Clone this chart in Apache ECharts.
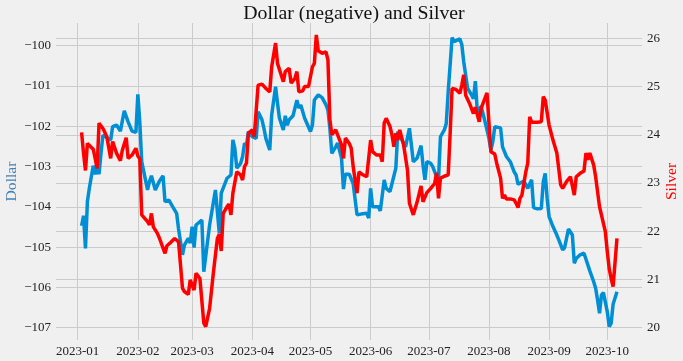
<!DOCTYPE html>
<html><head><meta charset="utf-8">
<script src="https://cdn.jsdelivr.net/npm/echarts@6/dist/echarts.min.js"></script>
<style>html,body{margin:0;padding:0;background:#f0f0f0}#c{width:683px;height:361px}</style>
</head><body><div id="c"></div>
<script>
const dollarDates = [
'2023-01-03','2023-01-04','2023-01-05','2023-01-06','2023-01-07','2023-01-09','2023-01-10','2023-01-11','2023-01-12','2023-01-13','2023-01-14','2023-01-15','2023-01-18','2023-01-19','2023-01-21','2023-01-23','2023-01-25','2023-01-27','2023-01-29','2023-01-31',
'2023-02-01','2023-02-02','2023-02-03','2023-02-06','2023-02-07','2023-02-08','2023-02-10','2023-02-12','2023-02-14','2023-02-15','2023-02-17','2023-02-19','2023-02-21','2023-02-22','2023-02-24','2023-02-25','2023-02-27','2023-02-28',
'2023-03-01','2023-03-02','2023-03-03','2023-03-06','2023-03-07','2023-03-08','2023-03-10','2023-03-13','2023-03-14','2023-03-15','2023-03-16','2023-03-19','2023-03-21','2023-03-22','2023-03-23','2023-03-24','2023-03-26','2023-03-27','2023-03-28','2023-03-29','2023-03-30',
'2023-04-01','2023-04-03','2023-04-04','2023-04-06','2023-04-07','2023-04-08','2023-04-10','2023-04-11','2023-04-13','2023-04-14','2023-04-15','2023-04-17','2023-04-18','2023-04-19','2023-04-20','2023-04-22','2023-04-24','2023-04-25','2023-04-26','2023-04-28',
'2023-05-01','2023-05-02','2023-05-03','2023-05-05','2023-05-07','2023-05-09','2023-05-10','2023-05-11','2023-05-12','2023-05-14','2023-05-15','2023-05-17','2023-05-18','2023-05-19','2023-05-21','2023-05-23','2023-05-25','2023-05-27','2023-05-30','2023-05-31',
'2023-06-01','2023-06-02','2023-06-05','2023-06-06','2023-06-08','2023-06-09','2023-06-11','2023-06-12','2023-06-14','2023-06-15','2023-06-16','2023-06-18','2023-06-19','2023-06-21','2023-06-22','2023-06-23','2023-06-25','2023-06-27','2023-06-28','2023-06-29','2023-06-30',
'2023-07-02','2023-07-03','2023-07-05','2023-07-06','2023-07-07','2023-07-09','2023-07-10','2023-07-11','2023-07-13','2023-07-14','2023-07-15','2023-07-17','2023-07-18','2023-07-19','2023-07-21','2023-07-23','2023-07-24','2023-07-25','2023-07-26','2023-07-28','2023-07-30',
'2023-08-01','2023-08-02','2023-08-03','2023-08-04','2023-08-07','2023-08-08','2023-08-09','2023-08-10','2023-08-12','2023-08-14','2023-08-15','2023-08-16','2023-08-17','2023-08-19','2023-08-20','2023-08-21','2023-08-23','2023-08-24','2023-08-26','2023-08-28','2023-08-29','2023-08-30','2023-08-31',
'2023-09-01','2023-09-03','2023-09-05','2023-09-06','2023-09-08','2023-09-09','2023-09-10','2023-09-11','2023-09-13','2023-09-14','2023-09-15','2023-09-17','2023-09-19','2023-09-20','2023-09-22','2023-09-24','2023-09-25','2023-09-26','2023-09-27','2023-09-28','2023-09-29',
'2023-10-01','2023-10-02','2023-10-03','2023-10-04','2023-10-06'
];
const dollarValues = [
-104.47,-104.22,-105.03,-103.87,-103.54,-102.98,-103.19,-103.04,-103.19,-102.67,-102.22,-102.26,-102.34,-102.01,-101.97,-102.12,-101.62,-101.89,-102.12,-102.15,
-101.21,-101.89,-102.88,-103.58,-103.37,-103.23,-103.58,-103.37,-103.23,-103.87,-103.83,-104.00,-104.16,-104.55,-105.19,-104.95,-104.78,-104.90,
-104.49,-105.01,-104.45,-104.33,-105.61,-105.65,-104.45,-103.58,-103.58,-104.66,-103.66,-103.29,-103.21,-102.34,-102.55,-103.04,-102.92,-102.75,-102.42,-102.48,-102.13,
-102.26,-102.30,-101.64,-101.84,-102.05,-102.30,-102.59,-101.72,-101.02,-101.43,-101.80,-102.09,-101.74,-101.97,-101.84,-101.74,-101.35,-101.55,-101.47,-101.80,
-102.13,-101.97,-101.35,-101.22,-101.29,-101.47,-101.60,-102.05,-102.67,-102.51,-102.42,-102.79,-103.56,-103.19,-103.19,-103.42,-104.20,-104.18,-104.16,-104.28,
-103.54,-104.00,-104.00,-104.10,-103.33,-103.54,-103.62,-103.58,-103.04,-102.13,-102.09,-102.42,-102.51,-102.05,-102.46,-102.88,-102.79,-102.48,-102.96,-103.33,-102.88,
-102.92,-103.00,-103.25,-103.33,-102.26,-102.09,-101.93,-101.14,-99.80,-99.90,-99.86,-99.83,-99.97,-100.40,-101.06,-101.22,-101.32,-100.88,-101.64,-101.51,-101.89,
-102.30,-102.59,-102.38,-102.01,-102.04,-102.51,-102.53,-102.75,-102.88,-103.13,-103.21,-103.44,-103.44,-103.36,-103.33,-103.54,-103.33,-104.02,-104.05,-104.04,-103.38,-103.17,-103.79,
-104.24,-104.49,-104.70,-104.82,-105.07,-105.01,-104.78,-104.55,-104.70,-105.40,-105.28,-105.19,-105.15,-105.18,-105.59,-105.86,-106.02,-106.31,-106.64,-106.19,-106.13,
-106.60,-106.97,-106.89,-106.42,-106.11
];
const silverDates = [
'2023-01-03','2023-01-04','2023-01-05','2023-01-06','2023-01-07','2023-01-09','2023-01-10','2023-01-11','2023-01-12','2023-01-14','2023-01-15','2023-01-16','2023-01-18','2023-01-19','2023-01-20','2023-01-21','2023-01-23','2023-01-24','2023-01-26','2023-01-27','2023-01-29','2023-01-31',
'2023-02-01','2023-02-02','2023-02-03','2023-02-06','2023-02-07','2023-02-08','2023-02-09','2023-02-11','2023-02-12','2023-02-13','2023-02-15','2023-02-16','2023-02-18','2023-02-20','2023-02-22','2023-02-24','2023-02-25','2023-02-27','2023-02-28',
'2023-03-01','2023-03-02','2023-03-03','2023-03-05','2023-03-06','2023-03-07','2023-03-08','2023-03-09','2023-03-10','2023-03-12','2023-03-14','2023-03-15','2023-03-16','2023-03-17','2023-03-19','2023-03-20','2023-03-21','2023-03-22','2023-03-24','2023-03-26','2023-03-27','2023-03-28','2023-03-29','2023-03-30',
'2023-04-01','2023-04-02','2023-04-04','2023-04-06','2023-04-08','2023-04-10','2023-04-11','2023-04-13','2023-04-14','2023-04-17','2023-04-18','2023-04-20','2023-04-21','2023-04-23','2023-04-24','2023-04-25','2023-04-27','2023-04-28','2023-04-30',
'2023-05-02','2023-05-03','2023-05-04','2023-05-05','2023-05-07','2023-05-09','2023-05-10','2023-05-11','2023-05-12','2023-05-14','2023-05-15','2023-05-17','2023-05-18','2023-05-19','2023-05-21','2023-05-22','2023-05-23','2023-05-25','2023-05-26','2023-05-28','2023-05-30',
'2023-06-01','2023-06-02','2023-06-04','2023-06-06','2023-06-07','2023-06-08','2023-06-09','2023-06-11','2023-06-12','2023-06-13','2023-06-14','2023-06-15','2023-06-16','2023-06-18','2023-06-20','2023-06-21','2023-06-23','2023-06-25','2023-06-27','2023-06-28','2023-06-30',
'2023-07-02','2023-07-04','2023-07-05','2023-07-06','2023-07-07','2023-07-09','2023-07-10','2023-07-11','2023-07-12','2023-07-13','2023-07-14','2023-07-15','2023-07-17','2023-07-18','2023-07-19','2023-07-20','2023-07-22','2023-07-24','2023-07-25','2023-07-27','2023-07-28','2023-07-31',
'2023-08-01','2023-08-02','2023-08-04','2023-08-05','2023-08-07','2023-08-08','2023-08-09','2023-08-10','2023-08-12','2023-08-14','2023-08-15','2023-08-16','2023-08-17','2023-08-18','2023-08-20','2023-08-21','2023-08-22','2023-08-23','2023-08-26','2023-08-28','2023-08-29','2023-08-30',
'2023-09-01','2023-09-03','2023-09-05','2023-09-07','2023-09-08','2023-09-10','2023-09-12','2023-09-14','2023-09-15','2023-09-17','2023-09-19','2023-09-20','2023-09-21','2023-09-22','2023-09-24','2023-09-25','2023-09-27','2023-09-28','2023-09-30',
'2023-10-01','2023-10-02','2023-10-03','2023-10-04','2023-10-05','2023-10-06'
];
const silverValues = [
24.05,23.62,23.26,23.82,23.79,23.70,23.51,23.30,24.24,24.13,24.05,23.96,23.51,23.86,23.82,23.62,23.46,23.68,23.94,23.51,23.58,23.72,
23.56,23.50,22.34,22.20,22.13,22.37,22.09,21.96,21.87,21.85,21.54,21.70,21.77,21.85,21.78,20.82,20.75,20.69,20.99,
20.97,20.78,21.13,21.02,20.99,20.10,20.02,20.03,20.40,21.16,21.85,21.94,21.59,22.37,22.51,22.56,22.34,22.79,23.23,23.17,23.06,23.34,23.41,24.03,
24.10,23.96,25.03,25.05,24.96,24.89,25.41,25.90,25.48,25.10,25.31,25.38,25.07,25.17,25.31,24.89,24.91,25.00,25.00,
25.41,25.48,26.07,25.74,25.69,25.72,25.55,24.31,24.00,24.10,24.13,23.79,23.51,23.93,23.82,23.72,23.34,22.79,23.23,23.17,23.13,
23.89,23.65,23.58,23.58,23.44,24.24,24.34,24.17,24.00,23.75,24.03,23.89,24.10,23.79,23.27,22.58,22.34,22.61,22.94,22.61,22.80,
22.89,22.99,23.21,22.68,23.10,23.14,23.15,23.17,24.03,24.96,25.00,24.94,24.86,25.03,25.24,24.82,24.65,24.44,24.57,24.27,24.55,24.87,
24.25,23.65,23.60,23.41,23.10,22.68,22.75,22.67,22.67,22.65,22.58,22.49,22.68,22.75,23.23,23.41,24.37,24.26,24.26,24.27,24.79,24.72,
24.20,23.89,23.62,22.96,22.89,23.03,23.13,22.75,23.13,23.20,23.25,23.62,23.48,23.62,23.37,23.13,22.51,22.49,21.99,
21.58,21.22,21.02,20.85,20.85,21.85
];
const titleText = 'Dollar (negative) and Silver';
const leftName = 'Dollar';
const rightName = 'Silver';

const FONT = 'Liberation Serif';
const day = 86400000;
const jan1 = new Date(2023, 0, 1).getTime();
const fmtMinus = v => (Math.abs(v - Math.round(v)) > 1e-6) ? '' : (v < 0 ? '\u2212' + Math.abs(v) : String(v));
const pad = n => (n < 10 ? '0' : '') + n;

const chart = echarts.init(document.getElementById('c'), null, {renderer: 'canvas'});
chart.setOption({
  animation: false,
  backgroundColor: '#f0f0f0',
  title: {
    text: titleText, left: 349, top: -1, textAlign: 'center',
    textStyle: {fontFamily: FONT, fontSize: 19.8, fontWeight: 'normal', color: '#111'}
  },
  grid: {left: 56, right: 41, top: 23, bottom: 21, containLabel: false, outerBoundsMode: 'none'},
  xAxis: {
    type: 'time',
    min: jan1 - 11.19 * day,
    max: jan1 + 290.9 * day,
    splitNumber: 10,
    minInterval: 28 * day,
    maxInterval: 31 * day,
    axisLine: {show: false}, axisTick: {show: false},
    splitLine: {show: true, showMinLine: false, showMaxLine: false, lineStyle: {color: '#cbcbcb', width: 1}},
    axisLabel: {
      fontFamily: FONT, fontSize: 13, color: '#222', margin: 5,
      showMinLabel: false, showMaxLabel: false,
      formatter: function (v) {
        const d = new Date(v);
        if (d.getDate() !== 1 || d.getHours() !== 0) return '';
        return d.getFullYear() + '-' + pad(d.getMonth() + 1);
      }
    }
  },
  yAxis: [
    {
      type: 'value', position: 'left', min: -107.305, max: -99.437, splitNumber: 8,
      name: leftName, nameLocation: 'middle', nameGap: 36, nameRotate: 90, nameMoveOverlap: false,
      nameTextStyle: {fontFamily: FONT, fontSize: 15.6, color: '#4682b4'},
      axisLine: {show: false}, axisTick: {show: false},
      splitLine: {show: true, showMinLine: false, showMaxLine: false, lineStyle: {color: '#cbcbcb', width: 1}},
      axisLabel: {fontFamily: FONT, fontSize: 13, color: '#222', margin: 5, showMinLabel: false, showMaxLabel: false, formatter: fmtMinus}
    },
    {
      type: 'value', position: 'right', min: 19.745, max: 26.317, splitNumber: 7,
      name: rightName, nameLocation: 'middle', nameGap: 22, nameRotate: 90, nameMoveOverlap: false,
      nameTextStyle: {fontFamily: FONT, fontSize: 15.6, color: '#ff0000'},
      axisLine: {show: false}, axisTick: {show: false},
      splitLine: {show: true, showMinLine: false, showMaxLine: false, lineStyle: {color: '#cbcbcb', width: 1}},
      axisLabel: {fontFamily: FONT, fontSize: 13, color: '#222', margin: 5, showMinLabel: false, showMaxLabel: false, formatter: fmtMinus}
    }
  ],
  series: [
    {
      name: leftName, type: 'line', yAxisIndex: 0, showSymbol: false,
      data: dollarDates.map((d, i) => [d, dollarValues[i]]),
      lineStyle: {color: '#008fd5', width: 3.5}, itemStyle: {color: '#008fd5'}, z: 2
    },
    {
      name: rightName, type: 'line', yAxisIndex: 1, showSymbol: false,
      data: silverDates.map((d, i) => [d, silverValues[i]]),
      lineStyle: {color: '#ff0000', width: 3.5}, itemStyle: {color: '#ff0000'}, z: 3
    }
  ]
});
</script>
</body></html>
